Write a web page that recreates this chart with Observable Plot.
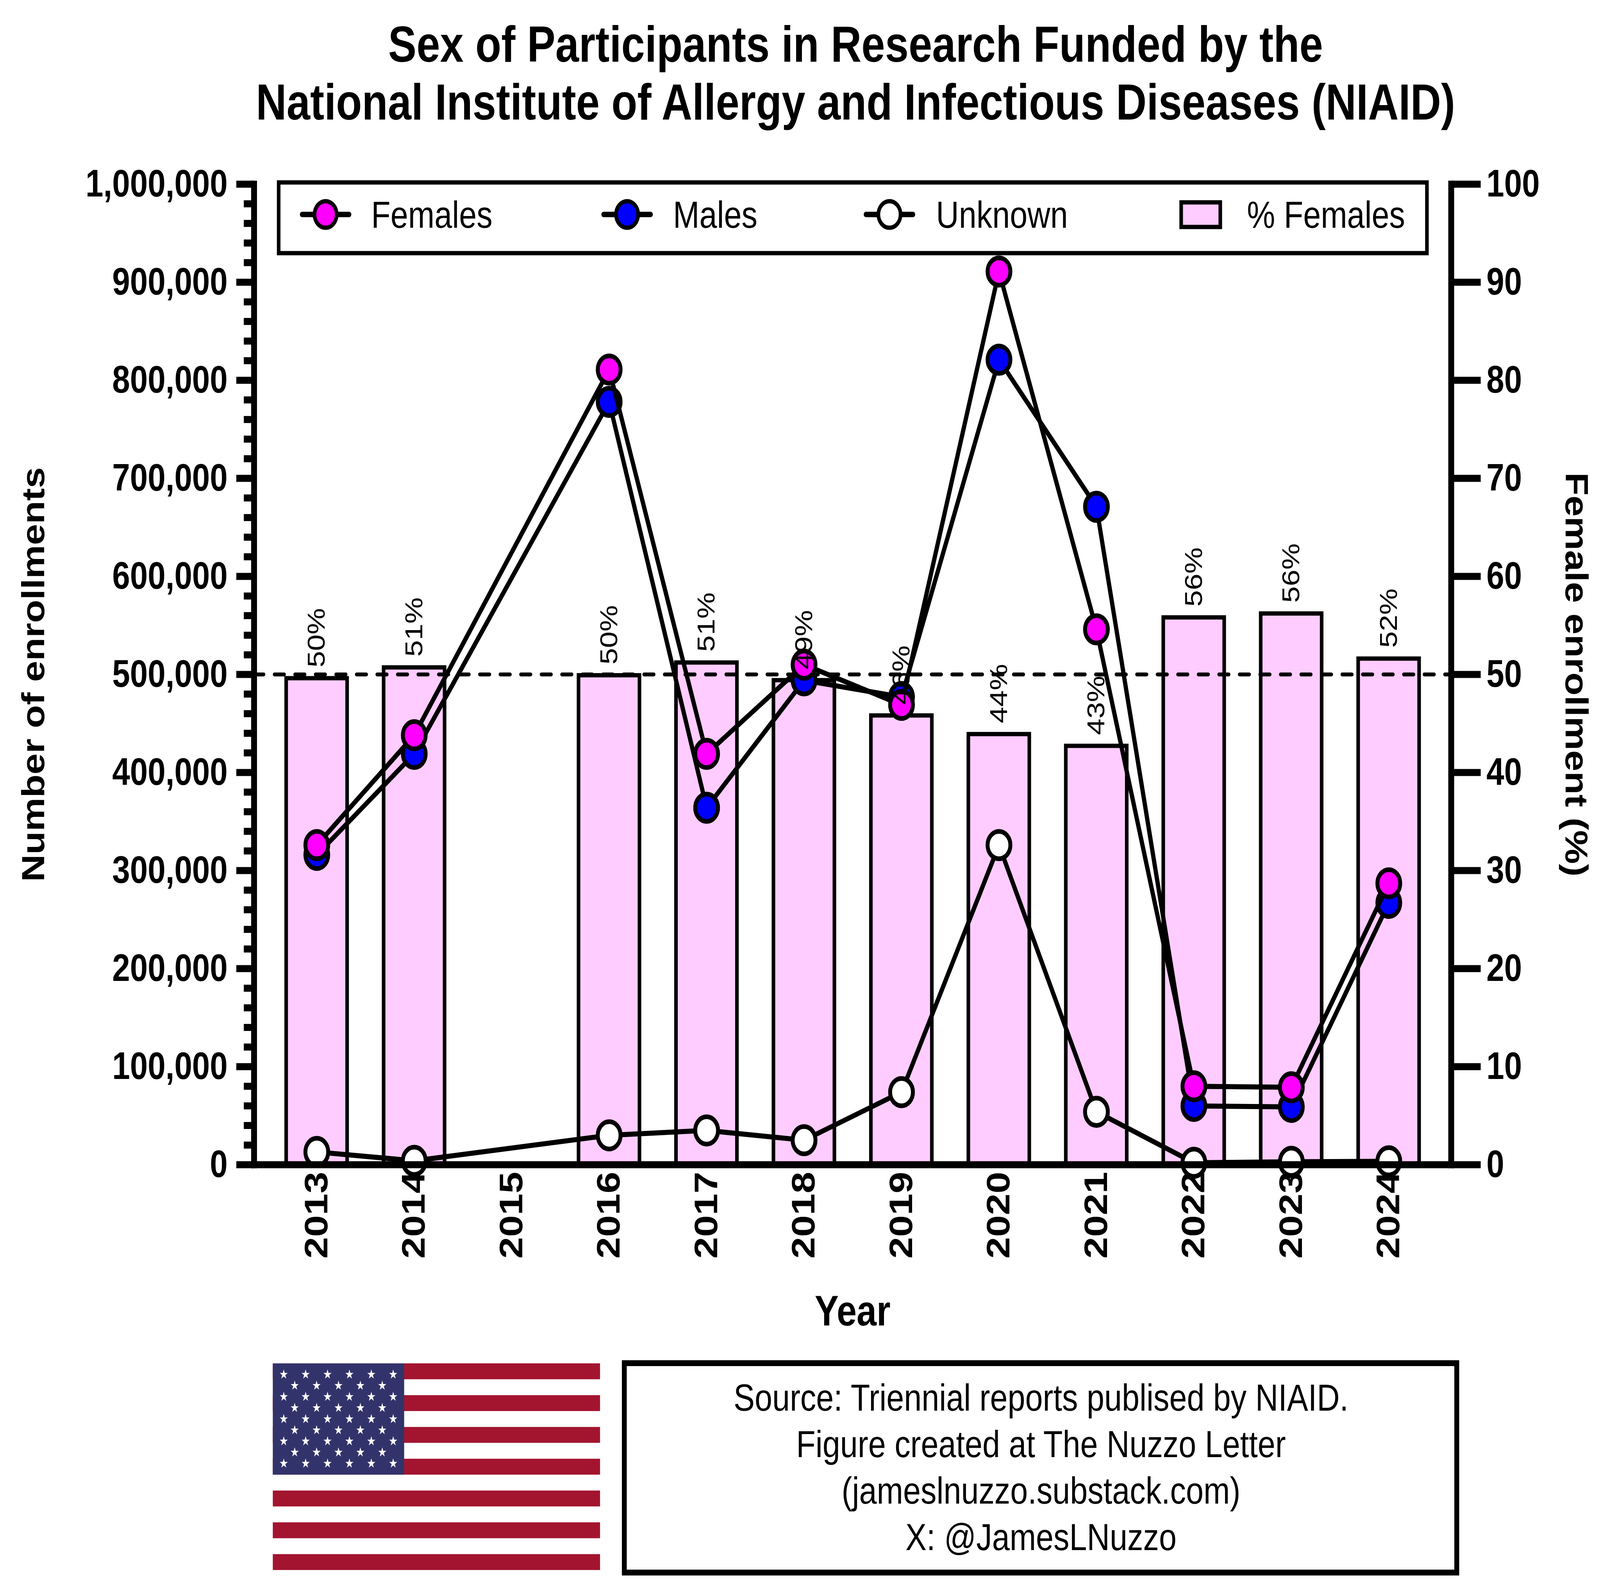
<!DOCTYPE html>
<html>
<head>
<meta charset="utf-8">
<script src="https://cdn.jsdelivr.net/npm/d3@7"></script>
<script src="https://cdn.jsdelivr.net/npm/@observablehq/plot@0.6"></script>
<style>
  html, body { margin: 0; padding: 0; background: #fff; overflow: hidden; }
  #page { position: absolute; left: 0; top: 0; width: 4909px; height: 4042px; background: #fff; overflow: hidden;
          transform-origin: 0 0; font-family: 'Liberation Sans', Arial, Helvetica, sans-serif; color: #000; }
  #title { position: absolute; left: 0; top: 39px; width: 5250px; text-align: center;
           font-size: 130px; line-height: 148px; font-weight: bold; }
  #chart { position: absolute; left: 0; top: 380px; }
  #legend, #bottom { position: absolute; left: 0; top: 0; }
</style>
</head>
<body>
<div id="page">
  <div id="title">Sex of Participants in Research Funded by the<br>National Institute of Allergy and Infectious Diseases (NIAID)</div>
  <div id="chart"></div>
  <svg id="legend" width="4909" height="700"></svg>
  <svg id="bottom" width="4909" height="4042"></svg>
</div>
<script>
// ---------------- data ----------------
const years = ["2013","2014","2015","2016","2017","2018","2019","2020","2021","2022","2023","2024"];
const dataYears = ["2013","2014","2016","2017","2018","2019","2020","2021","2022","2023","2024"];
const females = [326000, 438000, 811000, 419000, 510000, 469000, 911000, 546000, 80000, 79000, 287000];
const males   = [316000, 419000, 778000, 364000, 494000, 477000, 821000, 671000, 60000, 59000, 267000];
const unknown = [13000, 4000, 30000, 35000, 25000, 74000, 326000, 54000, 2000, 3000, 3500];
const pctFemales = [49.6, 50.7, 49.9, 51.2, 49.4, 45.8, 43.9, 42.7, 55.8, 56.2, 51.6];
const pctLabels = ["50%","51%","50%","51%","49%","46%","44%","43%","56%","56%","52%"];
const leftTicks = d3.range(0, 1000001, 100000);
const leftMinorTicks = d3.range(0, 1000001, 20000).filter(d => d % 100000 !== 0);
const rightTicks = d3.range(0, 101, 10);
const seriesNames = ["Unknown", "Males", "Females"];
const legendNames = ["Females", "Males", "Unknown", "% Females"];
const sourceLines = ["Source: Triennial reports publised by NIAID.", "Figure created at The Nuzzo Letter", "(jameslnuzzo.substack.com)", "X: @JamesLNuzzo"];

// ---------------- styles ----------------
const FONT = "'Liberation Sans', Arial, Helvetica, sans-serif";
const colors = {Females: "#FF00FF", Males: "#0000FF", Unknown: "#FFFFFF", bar: "#FFCCFF"};
const PCT = 10000; // right axis 0-100 maps onto left axis 0-1,000,000

const rows = dataYears.map((year, i) => ({
  year, Females: females[i], Males: males[i], Unknown: unknown[i], pct: pctFemales[i], label: pctLabels[i]
}));

const seriesMarks = seriesNames.flatMap(name => [
  Plot.line(rows, {x: "year", y: name, stroke: "black", strokeWidth: 13, strokeLinejoin: "round"}),
  Plot.dot(rows, {x: "year", y: name, r: 35, fill: colors[name], stroke: "black", strokeWidth: 12})
]);

const chart = Plot.plot({
  width: 4909, height: 3100,
  marginTop: 91, marginBottom: 499, marginLeft: 779, marginRight: 457,
  style: {fontFamily: FONT, fontSize: "100px", fontWeight: "bold", color: "black", background: "transparent", overflow: "visible"},
  x: {type: "band", domain: years, paddingInner: 0.375, paddingOuter: 0.32},
  y: {domain: [0, 1000000]},
  marks: [
    Plot.barY(rows, {x: "year", y: d => d.pct * PCT, fill: colors.bar, stroke: "black", strokeWidth: 11}),
    Plot.ruleY([50 * PCT], {stroke: "black", strokeWidth: 10, strokeDasharray: "30,33", strokeLinecap: "round"}),
    ...seriesMarks,
    Plot.text(rows, {x: "year", y: d => d.pct * PCT, text: "label", rotate: -90, textAnchor: "start",
      lineAnchor: "middle", dy: -28, fontSize: 76, fontWeight: "normal", fill: "black"}),
    Plot.axisY(leftMinorTicks, {anchor: "left", tickSize: 31, strokeWidth: 18, fill: "none", label: null}),
    Plot.axisY(leftTicks, {anchor: "left", tickSize: 54, tickPadding: 27, strokeWidth: 18,
      tickFormat: d3.format(","), fontSize: 98, label: null}),
    Plot.axisY(rightTicks.map(d => d * PCT), {anchor: "right", tickSize: 90, tickPadding: 18, strokeWidth: 18,
      tickFormat: d => String(d / PCT), fontSize: 98, label: null}),
    Plot.axisX({anchor: "bottom", tickSize: 0, tickRotate: -90, tickPadding: 18, label: null}),
    Plot.frame({anchor: "left", strokeWidth: 18, strokeLinecap: "square"}),
    Plot.frame({anchor: "right", strokeWidth: 18, strokeLinecap: "square"}),
    Plot.frame({anchor: "bottom", strokeWidth: 18, strokeLinecap: "square"}),
    Plot.text(["Number of enrollments"], {text: d => d, frameAnchor: "left", rotate: -90, dx: -675,
      textAnchor: "middle", lineAnchor: "middle", fontSize: 97}),
    Plot.text(["Female enrollment (%)"], {text: d => d, frameAnchor: "right", rotate: 90, dx: 382,
      textAnchor: "middle", lineAnchor: "middle", fontSize: 97}),
    Plot.text(["Year"], {text: d => d, frameAnchor: "bottom", dy: 376,
      textAnchor: "middle", lineAnchor: "middle", fontSize: 110})
  ]
});
document.getElementById("chart").appendChild(chart);

// ---------------- legend (overlay inside plot area) ----------------
const lg = d3.select("#legend");
lg.append("rect").attr("x", 855).attr("y", 467).attr("width", 3523).attr("height", 181)
  .attr("fill", "white").attr("stroke", "black").attr("stroke-width", 11);
const legendPos = [{m: 999, t: 1139}, {m: 1924, t: 2065}, {m: 2729, t: 2872}, {m: 3684, t: 3826}];
legendNames.forEach((name, i) => {
  const p = legendPos[i];
  if (name === "% Females") {
    lg.append("rect").attr("x", p.m - 60).attr("y", 518).attr("width", 120).attr("height", 63)
      .attr("fill", colors.bar).attr("stroke", "black").attr("stroke-width", 11);
  } else {
    lg.append("line").attr("x1", p.m - 72).attr("x2", p.m + 72).attr("y1", 549).attr("y2", 549)
      .attr("stroke", "black").attr("stroke-width", 14).attr("stroke-linecap", "round");
    lg.append("circle").attr("cx", p.m).attr("cy", 549).attr("r", 34)
      .attr("fill", colors[name]).attr("stroke", "black").attr("stroke-width", 11);
  }
  lg.append("text").attr("x", p.t).attr("y", 583).attr("font-family", FONT).attr("font-size", 97)
    .attr("fill", "black").text(name);
});

// ---------------- bottom: flag + source box ----------------
const bt = d3.select("#bottom");
const fx = 837, fy = 3490, fw = 1004, fh = 529;
const flag = bt.append("g").attr("transform", `translate(${fx},${fy})`);
flag.append("rect").attr("width", fw).attr("height", fh).attr("fill", "white");
d3.range(13).filter(i => i % 2 === 0).forEach(i => {
  flag.append("rect").attr("x", 0).attr("y", i * fh / 13).attr("width", fw).attr("height", fh / 13).attr("fill", "#A3142F");
});
const cw = 403, ch = fh * 7 / 13;
flag.append("rect").attr("width", cw).attr("height", ch).attr("fill", "#33336B");
const starPts = (cx, cy, R) => d3.range(10).map(k => {
  const r = k % 2 === 0 ? R : R * 0.382;
  const a = -Math.PI / 2 + k * Math.PI / 5;
  return [cx + r * Math.cos(a), cy + r * Math.sin(a)].join(",");
}).join(" ");
d3.range(9).forEach(row => {
  const n = row % 2 === 0 ? 6 : 5;
  d3.range(n).forEach(j => {
    const sx = row % 2 === 0 ? (2 * j + 1) * cw / 12 : (2 * j + 2) * cw / 12;
    const sy = (row + 1) * ch / 10;
    flag.append("polygon").attr("points", starPts(sx, sy, 13)).attr("fill", "white");
  });
});
bt.append("rect").attr("x", 1915.5).attr("y", 3489.5).attr("width", 2554).attr("height", 536)
  .attr("fill", "white").attr("stroke", "black").attr("stroke-width", 15);
const baselines = [3611, 3730, 3849, 3968];
sourceLines.forEach((line, i) => {
  bt.append("text").attr("x", 3194).attr("y", baselines[i]).attr("text-anchor", "middle")
    .attr("font-family", FONT).attr("font-size", 97).attr("fill", "black").text(line);
});

// ---------------- fit the 4909x4042 layout to the actual viewport ----------------
function fit() {
  const vw = document.documentElement.clientWidth || window.innerWidth;
  const vh = document.documentElement.clientHeight || window.innerHeight;
  document.getElementById("page").style.transform = `scale(${vw / 4909}, ${vh / 4042})`;
}
fit();
window.addEventListener("resize", fit);
</script>
</body>
</html>
